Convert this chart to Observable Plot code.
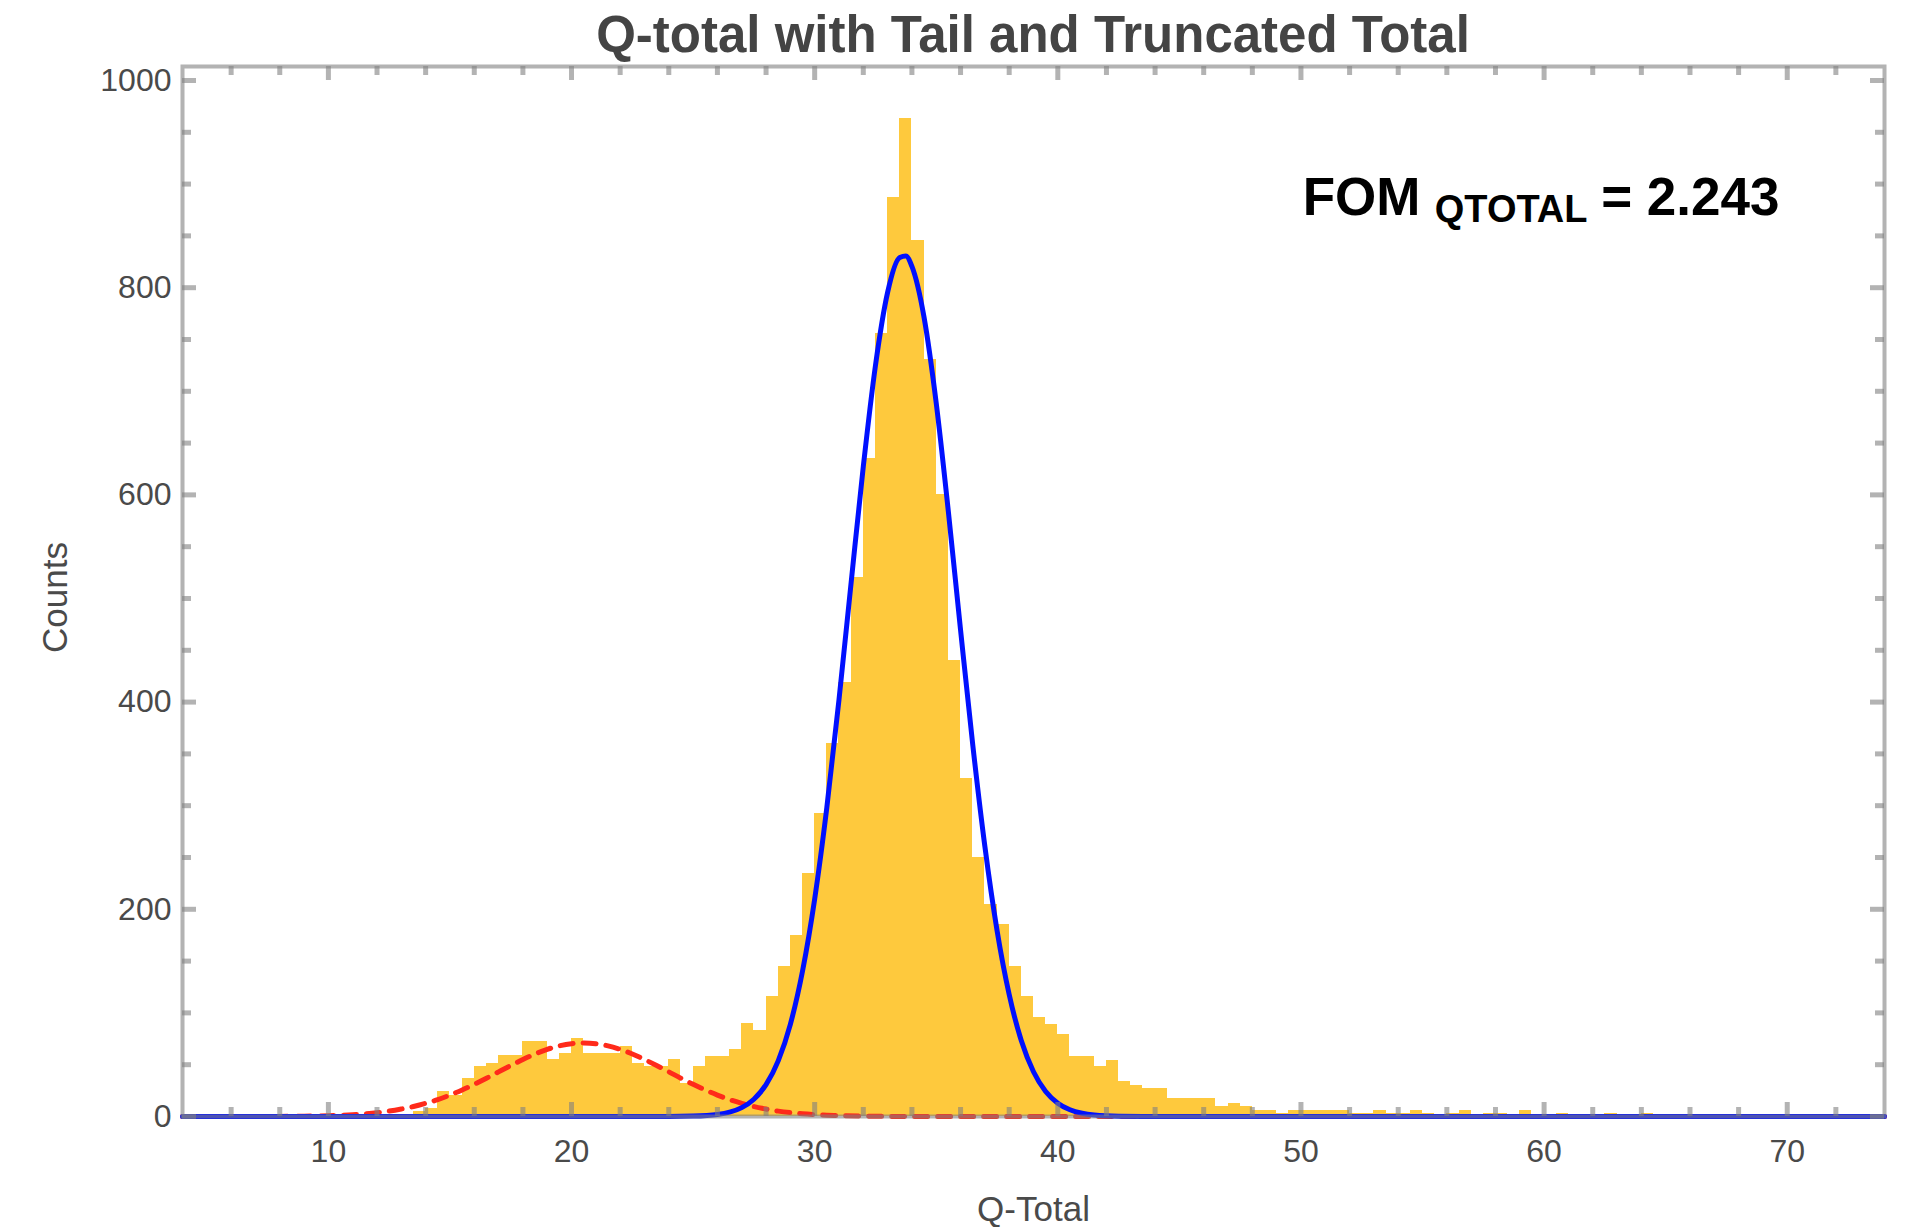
<!DOCTYPE html>
<html>
<head>
<meta charset="utf-8">
<script src="https://cdn.jsdelivr.net/npm/d3@7"></script>
<script src="https://cdn.jsdelivr.net/npm/@observablehq/plot@0.6"></script>
<style>
  html, body { margin: 0; padding: 0; background: #ffffff; }
  #title {
    width: 1911px; height: 60px; box-sizing: border-box;
    padding-left: 182px; padding-right: 27px;
    text-align: center; white-space: nowrap; overflow: visible;
    font: bold 51px "Liberation Sans", Arial, sans-serif; line-height: 69px;
    color: #444444;
  }
  #chart svg { display: block; }
</style>
</head>
<body>
<div id="title">Q-total with Tail and Truncated Total</div>
<div id="chart"></div>
<script>
// ---- data ----
const binStarts = [12, 12.5, 13, 13.5, 14, 14.5, 15, 15.5, 16, 16.5, 17, 17.5, 18, 18.5, 19, 19.5,
  20, 20.5, 21, 21.5, 22, 22.5, 23, 23.5, 24, 24.5, 25, 25.5, 26, 26.5, 27, 27.5, 28, 28.5, 29, 29.5,
  30, 30.5, 31, 31.5, 32, 32.5, 33, 33.5, 34, 34.5, 35, 35.5, 36, 36.5, 37, 37.5, 38, 38.5, 39, 39.5,
  40, 40.5, 41, 41.5, 42, 42.5, 43, 43.5, 44, 44.5, 45, 45.5, 46, 46.5, 47, 47.5, 48, 48.5, 49, 49.5,
  50, 50.5, 51, 51.5, 52, 52.5, 53, 53.5, 54, 54.5, 55, 55.5, 56, 56.5, 57, 57.5, 58, 58.5, 59, 59.5,
  60, 60.5, 61, 61.5, 62, 62.5, 63, 63.5, 64];
const binWidth = 0.5;
const counts = [1, 2, 2, 5, 8, 24, 20, 37, 48, 51, 59, 59, 72, 72, 55, 61,
  75, 61, 61, 61, 68, 51, 48, 48, 55, 32, 48, 58, 58, 65, 90, 83, 116, 145, 175, 235,
  292, 360, 419, 520, 635, 756, 887, 963, 846, 731, 600, 440, 326, 250, 205, 185, 145, 116, 96, 89,
  79, 58, 58, 48, 54, 34, 30, 27, 27, 17, 17, 17, 17, 10, 13, 10, 6, 6, 3, 6,
  6, 6, 6, 6, 3, 3, 6, 3, 3, 6, 3, 0, 3, 6, 0, 3, 3, 0, 6, 0,
  0, 3, 0, 0, 0, 3, 0, 0, 3];

// red dashed tail curve (x, counts)
const tailX = [4, 8, 9, 10, 10.5, 11, 11.5, 12, 12.5, 13, 13.5, 14, 14.5, 15, 15.5, 16, 16.5, 17, 17.5,
  18, 18.5, 19, 19.5, 20, 20.5, 21, 21.5, 22, 22.5, 23, 23.5, 24, 24.5, 25, 25.5, 26, 26.5, 27, 27.5,
  28, 28.5, 29, 29.5, 30, 30.5, 31, 32, 33, 34, 74];
const tailY = [0, 0.1, 0.3, 0.8, 1.2, 1.8, 2.6, 3.7, 5.2, 7.2, 9.6, 12.7, 16.3, 20.7, 25.6, 31.1, 36.9, 43.1, 49.2,
  55.0, 60.3, 64.8, 68.2, 70.3, 71, 70.3, 68.2, 64.8, 60.3, 55.0, 49.2, 43.1, 36.9, 31.1, 25.6, 20.7, 16.3, 12.7, 9.6,
  7.2, 5.2, 3.7, 2.6, 1.8, 1.2, 0.8, 0.3, 0.1, 0, 0];

// blue truncated-total curve (x, counts)
const mainX = [4, 24, 25, 26, 26.5, 27, 27.5, 28, 28.5, 29, 29.5, 30, 30.5, 31, 31.5, 32, 32.5, 33, 33.5, 33.75,
  34, 34.5, 35, 35.5, 36, 36.5, 37, 37.5, 38, 38.5, 39, 39.5, 40, 40.5, 41, 41.5, 42.5, 43.5, 74];
const mainY = [0, 0.05, 0.4, 2.0, 4.2, 8.6, 16.7, 30.7, 53.7, 89.0, 140.3, 209.9, 298.2, 402.3, 515.5, 627.3, 724.9, 795.5, 829.1, 830.5,
  820.5, 771.2, 688.4, 583.5, 469.7, 359.1, 260.7, 179.7, 117.7, 73.1, 43.2, 24.2, 12.9, 6.5, 3.1, 1.4, 0.25, 0.04, 0];

const xMajorTicks = [10, 20, 30, 40, 50, 60, 70];
const xMinorTicks = [6, 8, 12, 14, 16, 18, 22, 24, 26, 28, 32, 34, 36, 38, 42, 44, 46, 48,
  52, 54, 56, 58, 62, 64, 66, 68, 72];
const yMajorTicks = [0, 200, 400, 600, 800, 1000];
const yMinorTicks = [50, 100, 150, 250, 300, 350, 450, 500, 550, 650, 700, 750, 850, 900, 950];

const xLabel = "Q-Total";
const yLabel = "Counts";
const fomMain = "FOM";
const fomSub = "QTOTAL";
const fomValue = "= 2.243";

// ---- layout ----
const W = 1911, H = 1167;
const mL = 182, mR = 27, mT = 6, mB = 111;
const frameW = W - mL - mR, frameH = H - mT - mB;
const axisGray = "#808080", axisOpacity = 0.6;
const textGray = "#4a4a4a";
const font = "'Liberation Sans', Arial, sans-serif";

const bars = binStarts.map((lo, i) => ({lo, hi: lo + binWidth, count: counts[i]}));
const tail = tailX.map((x, i) => ({x, y: tailY[i]}));
const main = mainX.map((x, i) => ({x, y: mainY[i]}));

const tickStyle = {stroke: axisGray, strokeOpacity: axisOpacity, strokeWidth: 5};

const plot = Plot.plot({
  width: W, height: H,
  marginLeft: mL, marginRight: mR, marginTop: mT, marginBottom: mB,
  style: {fontFamily: font, fontSize: "31px", color: textGray, background: "#ffffff"},
  x: {domain: [4, 74], label: null},
  y: {domain: [0, 1013.5], label: null},
  marks: [
    Plot.rectY(bars, {x1: "lo", x2: "hi", y1: 0, y2: "count", fill: "#fec93d", shapeRendering: "crispEdges"}),
    Plot.line(tail, {x: "x", y: "y", stroke: "#ff2a1a", strokeWidth: 5, strokeDasharray: "13,10", curve: "monotone-x"}),
    Plot.line(main, {x: "x", y: "y", stroke: "#0010ff", strokeWidth: 5, curve: "monotone-x"}),
    // ticks pointing inward on all four sides
    Plot.ruleX(xMajorTicks, {x: d => d, insetTop: frameH - 14, ...tickStyle}),
    Plot.ruleX(xMinorTicks, {x: d => d, insetTop: frameH - 9, ...tickStyle}),
    Plot.ruleX(xMajorTicks, {x: d => d, insetBottom: frameH - 14, ...tickStyle}),
    Plot.ruleX(xMinorTicks, {x: d => d, insetBottom: frameH - 9, ...tickStyle}),
    Plot.ruleY(yMajorTicks, {y: d => d, insetRight: frameW - 14, ...tickStyle}),
    Plot.ruleY(yMinorTicks, {y: d => d, insetRight: frameW - 9, ...tickStyle}),
    Plot.ruleY(yMajorTicks, {y: d => d, insetLeft: frameW - 14, ...tickStyle}),
    Plot.ruleY(yMinorTicks, {y: d => d, insetLeft: frameW - 9, ...tickStyle}),
    Plot.frame({stroke: axisGray, strokeOpacity: axisOpacity, strokeWidth: 4}),
    // tick labels
    Plot.axisX({ticks: xMajorTicks, tickSize: 0, tickPadding: 23, tickFormat: d => String(d), label: null, fontSize: 32, fill: textGray}),
    Plot.axisY({ticks: yMajorTicks, tickSize: 0, tickPadding: 11, tickFormat: d => String(d), label: null, fontSize: 32, fill: textGray}),
    // axis titles
    Plot.text([xLabel], {text: d => d, frameAnchor: "bottom", textAnchor: "middle", dy: 93, lineAnchor: "middle", fontSize: 35, fill: textGray}),
    Plot.text([yLabel], {text: d => d, frameAnchor: "left", textAnchor: "middle", dx: -127, dy: 6, rotate: -90, lineAnchor: "middle", fontSize: 35, fill: textGray}),
    // FOM annotation
    Plot.text([fomMain], {text: d => d, frameAnchor: "top-right", textAnchor: "end", lineAnchor: "bottom", dx: -464, dy: 148, fontSize: 53, fontWeight: "bold", fill: "#000000"}),
    Plot.text([fomSub], {text: d => d, frameAnchor: "top-right", textAnchor: "end", lineAnchor: "bottom", dx: -297, dy: 155, fontSize: 38, fontWeight: "bold", fill: "#000000"}),
    Plot.text([fomValue], {text: d => d, frameAnchor: "top-right", textAnchor: "end", lineAnchor: "bottom", dx: -105, dy: 148, fontSize: 53, fontWeight: "bold", fill: "#000000"})
  ]
});

document.getElementById("chart").appendChild(plot);
</script>
</body>
</html>
